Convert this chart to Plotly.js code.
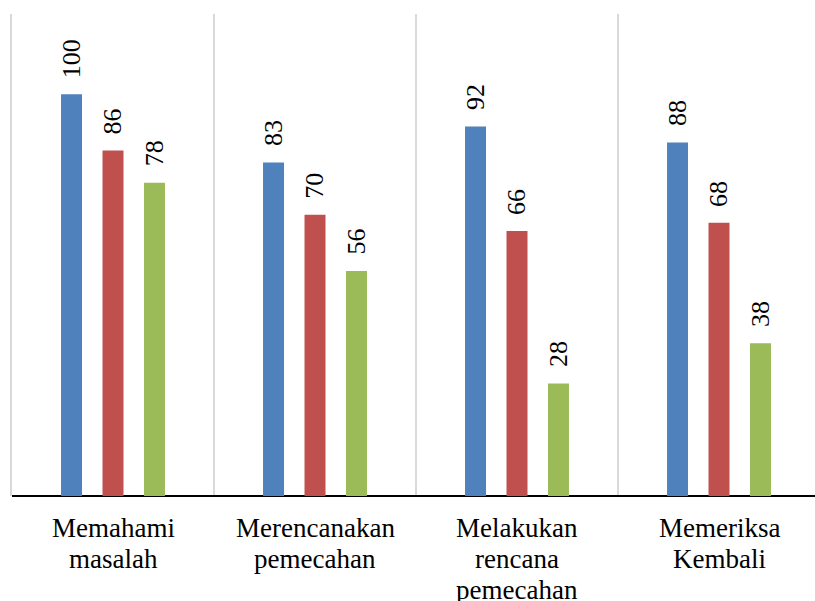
<!DOCTYPE html>
<html>
<head>
<meta charset="utf-8">
<script src="https://cdn.plot.ly/plotly-3.0.1.min.js"></script>
<style>html,body{margin:0;padding:0;background:#fff;}#chart{width:815px;height:601px;}</style>
</head>
<body>
<div id="chart"></div>
<script>
var categories = ["Memahami<br>masalah", "Merencanakan<br>pemecahan", "Melakukan<br>rencana<br>pemecahan", "Memeriksa<br>Kembali"];
var series1 = [100, 83, 92, 88];
var series2 = [86, 70, 66, 68];
var series3 = [78, 56, 28, 38];
var seriesNames = ["Seri 1", "Seri 2", "Seri 3"];
var colors = ["#4F81BD", "#C0504D", "#9BBB59"];

var allSeries = [series1, series2, series3];
var FAMILY = "Liberation Serif";

var traces = allSeries.map(function (vals, i) {
  return {
    type: "bar",
    name: seriesNames[i],
    x: categories,
    y: vals,
    marker: { color: colors[i] },
    hoverinfo: "y"
  };
});

var annotations = [];
var slotPx = 41.5;
allSeries.forEach(function (vals, i) {
  vals.forEach(function (v, j) {
    annotations.push({
      x: categories[j],
      y: v,
      xref: "x",
      yref: "y",
      text: String(v),
      showarrow: false,
      textangle: -90,
      xanchor: "center",
      yanchor: "bottom",
      xshift: (i - 1) * slotPx,
      yshift: 14,
      font: { family: FAMILY, size: 26, color: "#000000" }
    });
  });
});

// category labels, one annotation per line (tight Excel-like line spacing)
var lineStep = 31;
categories.forEach(function (c) {
  c.split("<br>").forEach(function (line, k) {
    annotations.push({
      x: c,
      y: 0,
      xref: "x",
      yref: "paper",
      text: line,
      showarrow: false,
      xanchor: "center",
      yanchor: "top",
      yshift: -15 - k * lineStep,
      font: { family: FAMILY, size: 27, color: "#000000" }
    });
  });
});

var layout = {
  width: 815,
  height: 601,
  margin: { l: 12, r: 0, t: 14, b: 105 },
  paper_bgcolor: "#fff",
  plot_bgcolor: "#fff",
  showlegend: false,
  barmode: "group",
  bargap: 0.384,
  bargroupgap: 0.494,
  font: { family: FAMILY, size: 24, color: "#000000" },
  xaxis: {
    type: "category",
    range: [-0.5, 3.4752],
    tickson: "boundaries",
    showgrid: true,
    gridcolor: "#D9D9D9",
    gridwidth: 2,
    ticks: "",
    showline: false,
    zeroline: false,
    showticklabels: false
  },
  yaxis: {
    range: [0, 120],
    showgrid: false,
    zeroline: true,
    zerolinecolor: "#000",
    zerolinewidth: 2,
    showticklabels: false,
    ticks: "",
    showline: true,
    linecolor: "#D9D9D9",
    linewidth: 2
  },
  annotations: annotations
};

Plotly.newPlot("chart", traces, layout, { displayModeBar: false, staticPlot: true });
</script>
</body>
</html>
